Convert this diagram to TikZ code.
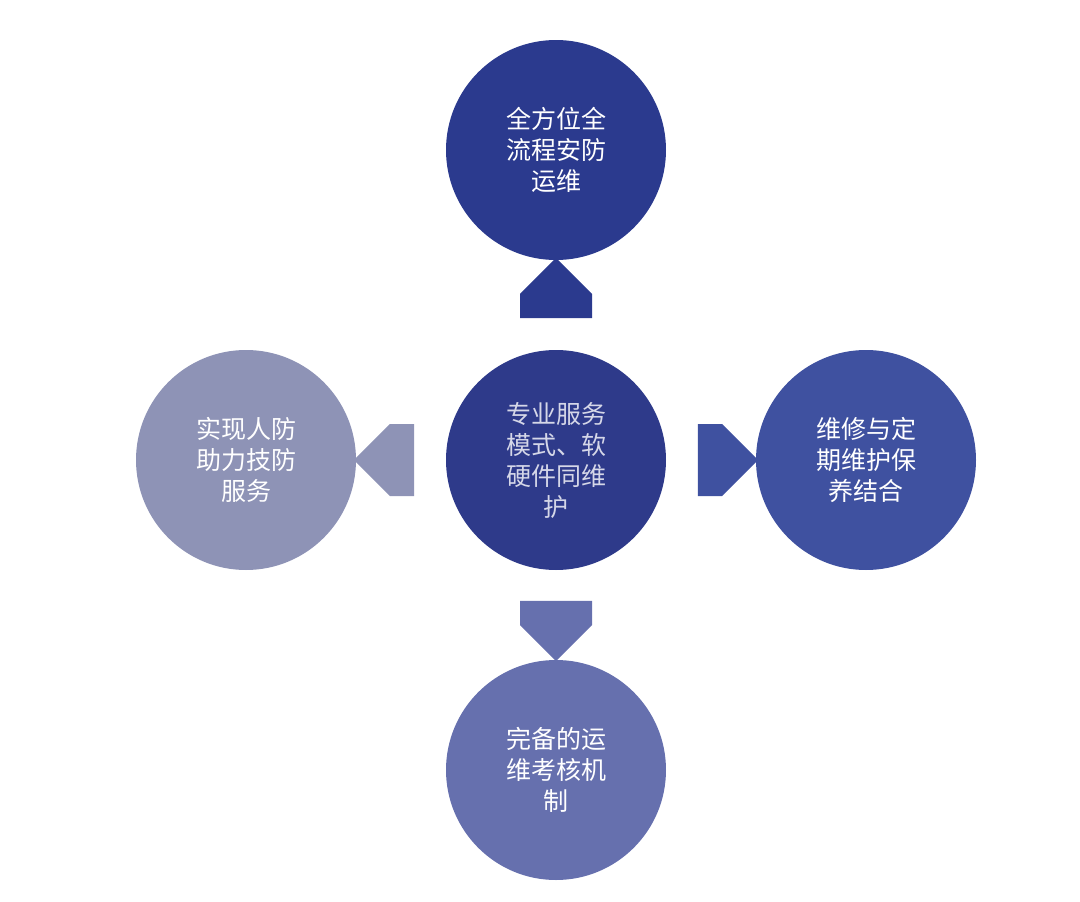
\documentclass[tikz,border=0pt]{standalone}
\usepackage{fontspec}
\setmainfont{Noto Sans CJK SC}
\definecolor{topblue}{HTML}{2B3A8E}
\definecolor{midblue}{HTML}{2E3A8A}
\definecolor{rightblue}{HTML}{3F51A0}
\definecolor{leftgray}{HTML}{8E93B6}
\definecolor{botblue}{HTML}{6670AE}
\usetikzlibrary{positioning,shapes.arrows}
\begin{document}
\begin{tikzpicture}[x=1pt,y=-1pt]
            % Styles
            \tikzset{
              disc/.style={circle,minimum size=220pt,inner sep=0pt,text=white,
                font=\fontsize{25}{31}\selectfont,align=center},
              bigarrow/.style={single arrow,minimum height=46pt,minimum width=72pt,
                single arrow head extend=0pt,inner sep=12pt}
            }
            % Canvas
            \useasboundingbox (0,0) rectangle (1080,902);
            % Circles
            \node[disc,fill=midblue,text=white!80!midblue] (hub) at (556,460) {专业服务\\模式、软\\硬件同维\\护};
            \node[disc,fill=topblue] (top) at (556,150) {全方位全\\流程安防\\运维};
            \node[disc,fill=rightblue] (right) at (866,460) {维修与定\\期维护保\\养结合};
            \node[disc,fill=leftgray] (left) at (246,460) {实现人防\\助力技防\\服务};
            \node[disc,fill=botblue] (bottom) at (556,770) {完备的运\\维考核机\\制};
            % Arrows
            \node[bigarrow,fill=topblue,shape border rotate=90] (aup) at (556,306) {};
            \node[bigarrow,fill=leftgray,shape border rotate=180] (aleft) at (402,460) {};
            \node[bigarrow,fill=rightblue] (aright) at (710,460) {};
            \node[bigarrow,fill=botblue,shape border rotate=270] (adown) at (556,613) {};
\end{tikzpicture}
\end{document}
